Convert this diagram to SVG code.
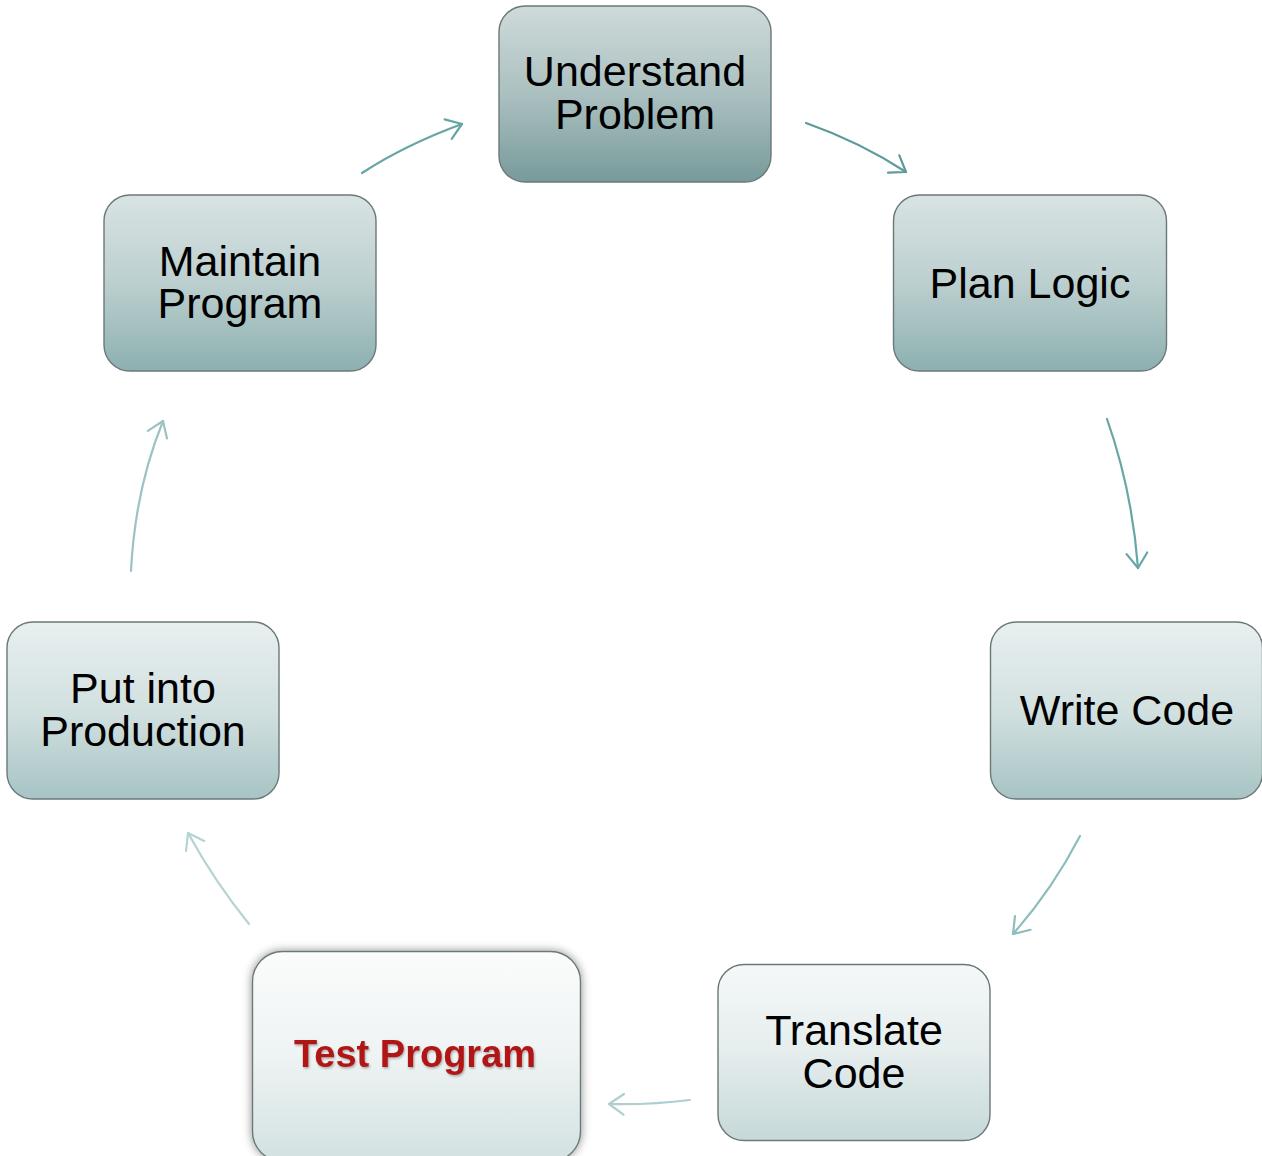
<svg xmlns="http://www.w3.org/2000/svg" width="1262" height="1156" viewBox="0 0 1262 1156">
  <defs>
    <linearGradient id="g1" x1="0" y1="0" x2="0" y2="1">
      <stop offset="0" stop-color="#cfdada"/>
      <stop offset="0.5" stop-color="#abc0c0"/>
      <stop offset="1" stop-color="#789a9a"/>
    </linearGradient>
    <linearGradient id="g2" x1="0" y1="0" x2="0" y2="1">
      <stop offset="0" stop-color="#d9e3e3"/>
      <stop offset="0.5" stop-color="#bccfcf"/>
      <stop offset="1" stop-color="#8db0b0"/>
    </linearGradient>
    <linearGradient id="g3" x1="0" y1="0" x2="0" y2="1">
      <stop offset="0" stop-color="#e8efef"/>
      <stop offset="0.5" stop-color="#d2e0e0"/>
      <stop offset="1" stop-color="#a7c4c4"/>
    </linearGradient>
    <linearGradient id="g4" x1="0" y1="0" x2="0" y2="1">
      <stop offset="0" stop-color="#f5f8f8"/>
      <stop offset="0.5" stop-color="#e5eded"/>
      <stop offset="1" stop-color="#c6d8d8"/>
    </linearGradient>
    <linearGradient id="g5" x1="0" y1="0" x2="0" y2="1">
      <stop offset="0" stop-color="#fbfcfc"/>
      <stop offset="0.5" stop-color="#eef3f3"/>
      <stop offset="1" stop-color="#d3e1e1"/>
    </linearGradient>
    <filter id="shadow" x="-20%" y="-20%" width="140%" height="140%">
      <feDropShadow dx="0" dy="0" stdDeviation="5" flood-color="#000" flood-opacity="0.45"/>
    </filter>
    <filter id="textShadow" x="-10%" y="-30%" width="120%" height="160%">
      <feDropShadow dx="1" dy="1.5" stdDeviation="1" flood-color="#000" flood-opacity="0.3"/>
    </filter>
  </defs>
  <style>
    .box { stroke: #6c7878; stroke-width: 1.4; }
    .lbl { font-family: "Liberation Sans", Arial, sans-serif; font-size: 43px; fill: #000; text-anchor: middle; }
    .hot { font-family: "Liberation Sans", Arial, sans-serif; font-size: 38px; font-weight: bold; fill: #b01818; text-anchor: middle; }
    .conn path { fill: none; stroke-width: 2.2; stroke-linecap: round; stroke-linejoin: round; }
  </style>

  <rect width="1262" height="1156" fill="#ffffff"/>

  <!-- connectors: curved arrows around the cycle -->
  <g id="connectors" class="conn">
    <g id="c-maintain-understand" stroke="#67a4a4">
      <path d="M362,173 Q405,145 462,124"/>
      <path d="M444.6,119.4 L462,124 L451.7,138.8"/>
    </g>
    <g id="c-understand-plan" stroke="#5e9a9a">
      <path d="M806,123 Q860,142 906,172"/>
      <path d="M899.3,155.3 L906,172 L888,172.6"/>
    </g>
    <g id="c-plan-write" stroke="#68a6a6">
      <path d="M1107,419 Q1132,490 1138,568"/>
      <path d="M1147.2,552.5 L1138,568 L1126.6,554.1"/>
    </g>
    <g id="c-write-translate" stroke="#8fbcbc">
      <path d="M1080,836 Q1052,890 1013,934"/>
      <path d="M1030.5,929.8 L1013,934 L1015,916"/>
    </g>
    <g id="c-translate-test" stroke="#afcfcf">
      <path d="M690,1100 Q650,1105 609,1104"/>
      <path d="M623.5,1114.7 L609,1104 L624,1094"/>
    </g>
    <g id="c-test-production" stroke="#b5d3d3">
      <path d="M249,924 Q215,882 188,833"/>
      <path d="M186,851 L188,833 L204.2,840.9"/>
    </g>
    <g id="c-production-maintain" stroke="#9cc3c3">
      <path d="M131,571 Q135,490 163,421"/>
      <path d="M147.9,430.8 L163,421 L167,438.5"/>
    </g>
  </g>

  <g id="n-understand">
    <rect class="box" x="499" y="6" width="272" height="176" rx="26" fill="url(#g1)"/>
    <text class="lbl" x="635" y="86">Understand</text>
    <text class="lbl" x="635" y="129">Problem</text>
  </g>

  <g id="n-plan">
    <rect class="box" x="893.5" y="195" width="273" height="176" rx="26" fill="url(#g2)"/>
    <text class="lbl" x="1030" y="298">Plan Logic</text>
  </g>

  <g id="n-write">
    <rect class="box" x="990.5" y="622" width="272" height="177" rx="26" fill="url(#g3)"/>
    <text class="lbl" x="1127" y="725">Write Code</text>
  </g>

  <g id="n-translate">
    <rect class="box" x="718" y="964.5" width="272" height="176" rx="26" fill="url(#g4)"/>
    <text class="lbl" x="854" y="1045">Translate</text>
    <text class="lbl" x="854" y="1088">Code</text>
  </g>

  <g id="n-test">
    <rect class="box" x="252.5" y="951.5" width="328" height="210" rx="30" fill="url(#g5)" stroke="#5a6262" filter="url(#shadow)"/>
    <text class="hot" x="415" y="1067" filter="url(#textShadow)">Test Program</text>
  </g>

  <g id="n-production">
    <rect class="box" x="7" y="622" width="272" height="177" rx="26" fill="url(#g3)"/>
    <text class="lbl" x="143" y="703">Put into</text>
    <text class="lbl" x="143" y="746">Production</text>
  </g>

  <g id="n-maintain">
    <rect class="box" x="104" y="195" width="272" height="176" rx="26" fill="url(#g2)"/>
    <text class="lbl" x="240" y="276">Maintain</text>
    <text class="lbl" x="240" y="318">Program</text>
  </g>
</svg>
